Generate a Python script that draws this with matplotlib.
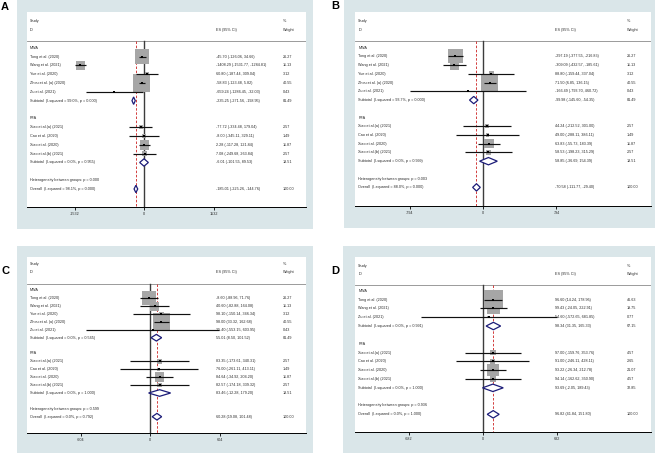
import numpy as np
import matplotlib
matplotlib.use("Agg")
import matplotlib.pyplot as plt
from matplotlib.patches import Rectangle, Polygon

W, H, DPI = 659, 453, 100
plt.rcParams['font.family'] = ['Liberation Sans', 'DejaVu Sans']
plt.rcParams['axes.unicode_minus'] = False

# ---------------- data ----------------
mwa_studies = ["Tong et al. (2020)", "Wang et al. (2021)", "Yue et al. (2020)",
               "Zhou et al. (a) (2020)", "Zu et al. (2021)"]
mwa_studies_d = ["Tong et al. (2020)", "Wang et al. (2021)", "Zu et al. (2021)"]
rfa_studies = ["Xiao et al.(a) (2021)", "Cao et al. (2020)", "Xiao et al. (2020)",
               "Xiao et al.(b) (2021)"]
groups = ["MWA", "RFA"]

# Panel A
A_mwa_es = [-45.70, -1408.29, 60.80, -58.83, -659.24]
A_mwa_lo = [-126.06, -1531.77, -187.44, -123.48, -1286.45]
A_mwa_hi = [34.66, -1284.81, 309.04, 5.82, -32.03]
A_mwa_w = [26.27, 11.13, 3.12, 40.55, 0.43]
A_rfa_es = [-77.72, -8.00, 2.28, 7.08]
A_rfa_lo = [-334.48, -345.11, -117.28, -249.68]
A_rfa_hi = [179.04, 329.11, 121.84, 263.84]
A_rfa_w = [2.57, 1.49, 11.87, 2.57]
A_sub_es = [-235.25, -6.01]
A_sub_lo = [-271.56, -101.55]
A_sub_hi = [-198.95, 89.53]
A_sub_w = [81.49, 18.51]
A_sub_i2 = ["99.0%", "0.0%"]
A_sub_p = ["0.000", "0.955"]
A_overall = [-185.01, -225.26, -144.76]
A_overall_i2, A_overall_p, A_het_p = "98.1%", "0.000", "0.000"
A_tick = 1532

# Panel B
B_mwa_es = [-297.19, -309.09, 88.80, 71.50, -166.49]
B_mwa_lo = [-377.55, -432.57, -159.44, 6.85, -793.70]
B_mwa_hi = [-216.83, -185.61, 337.04, 136.15, 460.72]
B_mwa_w = [26.27, 11.13, 3.12, 40.55, 0.43]
B_rfa_es = [44.24, 49.00, 63.83, 58.53]
B_rfa_lo = [-212.52, -288.11, -55.73, -198.23]
B_rfa_hi = [301.00, 386.11, 183.39, 315.29]
B_rfa_w = [2.57, 1.49, 11.87, 2.57]
B_sub_es = [-99.98, 58.85]
B_sub_lo = [-145.60, -36.69]
B_sub_hi = [-54.35, 154.39]
B_sub_w = [81.49, 18.51]
B_sub_i2 = ["93.7%", "0.0%"]
B_sub_p = ["0.000", "0.999"]
B_overall = [-70.58, -111.77, -29.40]
B_overall_i2, B_overall_p, B_het_p = "88.0%", "0.000", "0.003"
B_tick = 794

# Panel C
C_mwa_es = [-8.60, 40.60, 98.10, 98.00, 25.40]
C_mwa_lo = [-88.96, -82.88, -150.14, 33.32, -553.15]
C_mwa_hi = [71.76, 164.08, 346.34, 162.68, 603.95]
C_mwa_w = [26.27, 11.13, 3.12, 40.55, 0.43]
C_rfa_es = [83.35, 76.00, 84.64, 82.57]
C_rfa_lo = [-173.61, -261.11, -34.92, -174.18]
C_rfa_hi = [340.31, 413.11, 204.20, 339.32]
C_rfa_w = [2.57, 1.49, 11.87, 2.57]
C_sub_es = [55.01, 83.46]
C_sub_lo = [8.50, -12.28]
C_sub_hi = [101.52, 179.20]
C_sub_w = [81.49, 18.51]
C_sub_i2 = ["0.0%", "0.0%"]
C_sub_p = ["0.565", "1.000"]
C_overall = [60.28, 19.08, 101.48]
C_overall_i2, C_overall_p, C_het_p = "0.0%", "0.792", "0.599"
C_tick = 604

# Panel D
D_mwa_es = [96.60, 99.43, 54.60]
D_mwa_lo = [14.24, -24.05, -572.65]
D_mwa_hi = [178.96, 222.91, 681.85]
D_mwa_w = [46.63, 19.75, 0.77]
D_rfa_es = [97.00, 91.00, 93.22, 94.14]
D_rfa_lo = [-159.76, -246.11, -26.34, -162.62]
D_rfa_hi = [353.76, 428.11, 212.78, 350.90]
D_rfa_w = [4.57, 2.65, 21.07, 4.57]
D_sub_es = [98.34, 93.69]
D_sub_lo = [31.35, -2.05]
D_sub_hi = [165.33, 189.43]
D_sub_w = [67.15, 32.85]
D_sub_i2 = ["0.0%", "0.0%"]
D_sub_p = ["0.991", "1.000"]
D_overall = [96.82, 41.84, 151.80]
D_overall_i2, D_overall_p, D_het_p = "0.0%", "1.000", "0.936"
D_tick = 682

# ---------------- styling ----------------
BG = '#dae6e9'
TXT = '#2a2a2a'
FS = 2.7
BOX = '#a6a6a6'
NAVY = '#1c1c78'

fig = plt.figure(figsize=(W / DPI, H / DPI), dpi=DPI)
fig.patch.set_facecolor('white')


def fmt(es, lo, hi):
    return f"{es:.2f} ({lo:.2f}, {hi:.2f})"


def panel(letter, letter_xy, blue, white, zero_px, tick_px, tick, row0, sp,
          study_px, id_px, hline_px, text_px, es_px, w_px,
          studies_sets, sub_es, sub_lo, sub_hi, sub_w, sub_i2, sub_p,
          overall, ov_i2, ov_p, het_p):
    bx0, by0, bx1, by1 = blue
    bg = fig.add_axes([bx0 / W, 1 - by1 / H, (bx1 - bx0) / W, (by1 - by0) / H], zorder=0)
    bg.set_facecolor(BG)
    bg.set_xticks([]); bg.set_yticks([])
    for s in bg.spines.values():
        s.set_visible(False)
    fig.text(letter_xy[0] / W, 1 - letter_xy[1] / H, letter, fontsize=8, fontweight='bold',
             ha='center', va='center', family='Liberation Sans')
    x0, ytop, x1, yax = white
    ax = fig.add_axes([x0 / W, 1 - yax / H, (x1 - x0) / W, (yax - ytop) / H], zorder=1)
    ax.set_facecolor('white')
    ax.set_xlim((x0 - zero_px) / tick_px * tick, (x1 - zero_px) / tick_px * tick)
    ybot = (yax - row0) / sp
    ax.set_ylim(ybot, (ytop - row0) / sp)
    for s in ['top', 'right', 'left']:
        ax.spines[s].set_visible(False)
    ax.spines['bottom'].set_linewidth(0.7)
    ax.set_yticks([])
    ax.set_xticks([-tick, 0, tick])
    ax.set_xticklabels([f"-{tick}", "0", f"{tick}"])
    ax.tick_params(axis='x', length=2.5, width=0.6, pad=1.2, labelsize=FS, labelcolor=TXT)

    fx = lambda px: (px - x0) / (x1 - x0)
    tr = ax.get_yaxis_transform()
    ry = lambda px: (px - row0) / sp
    ax.text(fx(text_px), ry(study_px), "Study", fontsize=FS, color=TXT, va='center', transform=tr)
    ax.text(fx(text_px), ry(id_px), "ID", fontsize=FS, color=TXT, va='center', transform=tr)
    ax.text(fx(es_px), ry(id_px), "ES (95% CI)", fontsize=FS, color=TXT, va='center', transform=tr)
    ax.text(fx(w_px), ry(study_px), "%", fontsize=FS, color=TXT, va='center', transform=tr)
    ax.text(fx(w_px), ry(id_px), "Weight", fontsize=FS, color=TXT, va='center', transform=tr)
    hl = ry(hline_px)
    ax.axhline(hl, color='#8a8a8a', lw=0.6, zorder=1)

    row = 0
    for gi, (gname, names, es, lo, hi, w) in enumerate(studies_sets):
        ax.text(fx(text_px), row, gname, fontsize=FS, color=TXT, va='center', transform=tr)
        row += 1
        ys = np.arange(row, row + len(names))
        ax.hlines(ys, lo, hi, color='#111111', lw=0.85, zorder=4)
        side = 2.75 * np.sqrt(np.array(w)) * 72 / DPI
        ax.scatter(es, ys, marker='s', s=side ** 2, color=BOX, linewidths=0, zorder=3)
        ax.scatter(es, ys, marker='s', s=1.2, color='black', linewidths=0, zorder=5)
        for y, n, e, l, h, ww in zip(ys, names, es, lo, hi, w):
            ax.text(fx(text_px), y, n, fontsize=FS, color=TXT, va='center', transform=tr)
            ax.text(fx(es_px), y, fmt(e, l, h), fontsize=FS, color=TXT, va='center', transform=tr)
            ax.text(fx(w_px), y, f"{ww:.2f}", fontsize=FS, color=TXT, va='center', transform=tr)
        row += len(names)
        e, l, h = sub_es[gi], sub_lo[gi], sub_hi[gi]
        ax.add_patch(Polygon([(l, row), (e, row - 0.42), (h, row), (e, row + 0.42)],
                             closed=True, facecolor='white', edgecolor=NAVY, lw=0.9, zorder=6))
        ax.text(fx(text_px), row, f"Subtotal  (I-squared = {sub_i2[gi]}, p = {sub_p[gi]})",
                fontsize=FS, color=TXT, va='center', transform=tr)
        ax.text(fx(es_px), row, fmt(e, l, h), fontsize=FS, color=TXT, va='center', transform=tr)
        ax.text(fx(w_px), row, f"{sub_w[gi]:.2f}", fontsize=FS, color=TXT, va='center', transform=tr)
        row += 2
    ax.text(fx(text_px), row, f"Heterogeneity between groups: p = {het_p}", fontsize=FS,
            color=TXT, va='center', transform=tr)
    row += 1
    e, l, h = overall
    ax.add_patch(Polygon([(l, row), (e, row - 0.42), (h, row), (e, row + 0.42)],
                         closed=True, facecolor='white', edgecolor=NAVY, lw=0.9, zorder=6))
    ax.text(fx(text_px), row, f"Overall  (I-squared = {ov_i2}, p = {ov_p})", fontsize=FS,
            color=TXT, va='center', transform=tr)
    ax.text(fx(es_px), row, fmt(e, l, h), fontsize=FS, color=TXT, va='center', transform=tr)
    ax.text(fx(w_px), row, "100.00", fontsize=FS, color=TXT, va='center', transform=tr)

    ax.plot([0, 0], [hl, ybot], color='#3c3c3c', lw=1.0, zorder=2)
    ax.plot([e, e], [hl, ybot], color='#cc1f1f', lw=0.6, ls=(0, (3, 2)), zorder=2)
    return ax


panel("A", (5, 7), (17, 0, 313, 229), (27.3, 12.3, 305.7, 206.7), 144.3, 69.5, A_tick,
      47.7, 8.83, 21, 30, 41, 30, 216, 283,
      [("MWA", mwa_studies, A_mwa_es, A_mwa_lo, A_mwa_hi, A_mwa_w),
       ("RFA", rfa_studies, A_rfa_es, A_rfa_lo, A_rfa_hi, A_rfa_w)],
      A_sub_es, A_sub_lo, A_sub_hi, A_sub_w, A_sub_i2, A_sub_p,
      A_overall, A_overall_i2, A_overall_p, A_het_p)

panel("B", (335, 6), (344, 0, 655, 228), (355, 12.3, 650.7, 205.7), 483.0, 73.5, B_tick,
      47.7, 8.73, 21, 30, 40.7, 358.3, 555, 626.7,
      [("MWA", mwa_studies, B_mwa_es, B_mwa_lo, B_mwa_hi, B_mwa_w),
       ("RFA", rfa_studies, B_rfa_es, B_rfa_lo, B_rfa_hi, B_rfa_w)],
      B_sub_es, B_sub_lo, B_sub_hi, B_sub_w, B_sub_i2, B_sub_p,
      B_overall, B_overall_i2, B_overall_p, B_het_p)

panel("C", (5, 271), (17, 245.7, 313, 453), (27.3, 256.7, 305.7, 432.7), 150, 69.5, C_tick,
      290.3, 7.9, 264, 272.3, 284, 30, 216, 283,
      [("MWA", mwa_studies, C_mwa_es, C_mwa_lo, C_mwa_hi, C_mwa_w),
       ("RFA", rfa_studies, C_rfa_es, C_rfa_lo, C_rfa_hi, C_rfa_w)],
      C_sub_es, C_sub_lo, C_sub_hi, C_sub_w, C_sub_i2, C_sub_p,
      C_overall, C_overall_i2, C_overall_p, C_het_p)

panel("D", (335, 271), (343.3, 245.7, 655, 453), (355, 256.7, 650.7, 431.7), 482.7, 74, D_tick,
      290.7, 8.83, 265.7, 274, 285, 358.3, 555, 626.7,
      [("MWA", mwa_studies_d, D_mwa_es, D_mwa_lo, D_mwa_hi, D_mwa_w),
       ("RFA", rfa_studies, D_rfa_es, D_rfa_lo, D_rfa_hi, D_rfa_w)],
      D_sub_es, D_sub_lo, D_sub_hi, D_sub_w, D_sub_i2, D_sub_p,
      D_overall, D_overall_i2, D_overall_p, D_het_p)

fig.savefig("out.png", dpi=DPI, facecolor='white')
